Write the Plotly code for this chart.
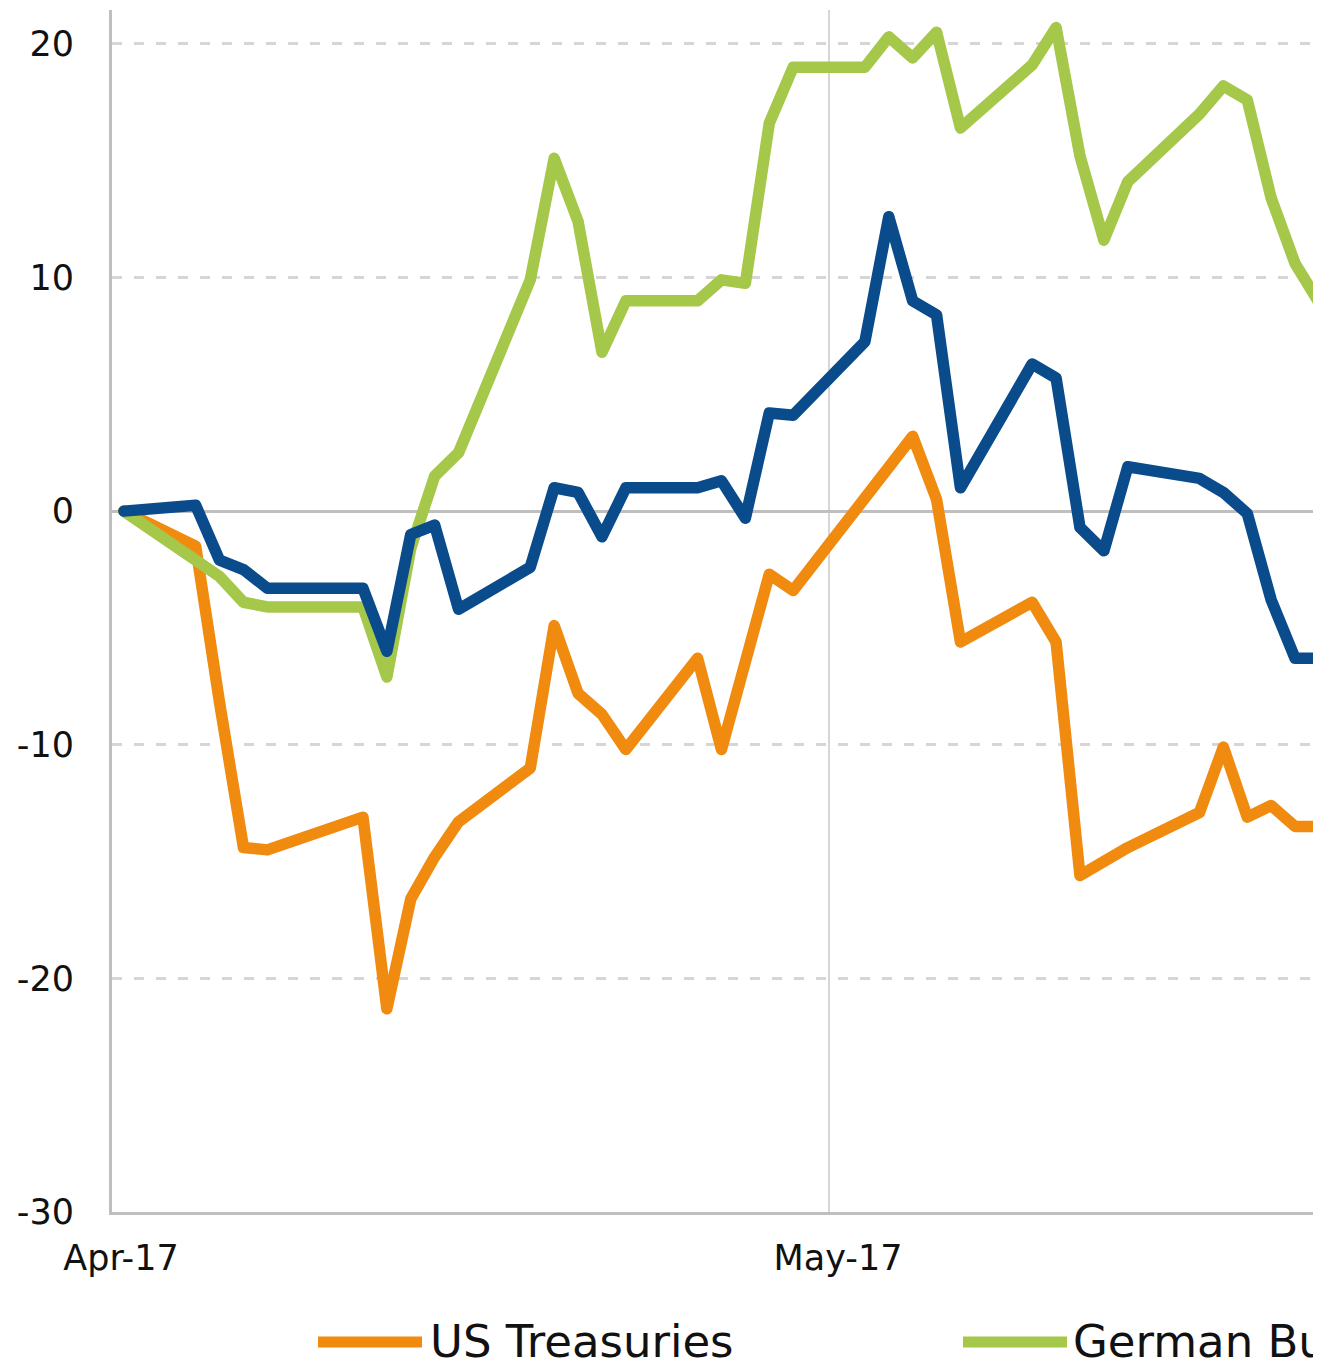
import plotly.graph_objects as go

# Trading days (weekends and Good Friday are simply bridged by the line)
dates = [
    "2017-04-07", "2017-04-10", "2017-04-11", "2017-04-12", "2017-04-13",
    "2017-04-17", "2017-04-18", "2017-04-19", "2017-04-20", "2017-04-21",
    "2017-04-24", "2017-04-25", "2017-04-26", "2017-04-27", "2017-04-28",
    "2017-05-01", "2017-05-02", "2017-05-03", "2017-05-04", "2017-05-05",
    "2017-05-08", "2017-05-09", "2017-05-10", "2017-05-11", "2017-05-12",
    "2017-05-15", "2017-05-16", "2017-05-17", "2017-05-18", "2017-05-19",
    "2017-05-22", "2017-05-23", "2017-05-24", "2017-05-25", "2017-05-26",
    "2017-05-29",
]

# Cumulative change since the start date (bp)
us_treasuries = [
    0, -1.5, -8.2, -14.4, -14.5,
    -13.1, -21.3, -16.6, -14.8, -13.3,
    -11.0, -4.9, -7.8, -8.7, -10.2,
    -6.3, -10.2, -6.5, -2.7, -3.4,
    0.6, 1.9, 3.2, 0.5, -5.6,
    -3.9, -5.6, -15.6, -15.0, -14.4,
    -12.9, -10.1, -13.1, -12.6, -13.5,
    -13.5,
]
german_bunds = [
    0, -2.1, -2.8, -3.9, -4.1,
    -4.1, -7.1, -1.6, 1.5, 2.5,
    9.9, 15.1, 12.4, 6.8, 9.0,
    9.0, 9.9, 9.75, 16.6, 19.0,
    19.0, 20.3, 19.4, 20.5, 16.4,
    19.1, 20.7, 15.2, 11.6, 14.1,
    17.0, 18.2, 17.6, 13.4, 10.6,
    5.6,
]
third_market = [
    0, 0.25, -2.1, -2.5, -3.3,
    -3.3, -6.0, -1.0, -0.6, -4.2,
    -2.4, 1.0, 0.8, -1.1, 1.0,
    1.0, 1.3, -0.3, 4.2, 4.1,
    7.25, 12.6, 9.0, 8.4, 1.0,
    6.3, 5.7, -0.7, -1.7, 1.9,
    1.4, 0.8, -0.1, -3.8, -6.3,
    -6.3,
]

y_ticks = [-30, -20, -10, 0, 10, 20]
y_tick_text = ["-30", "-20", "-10", "0", "10", "20"]
x_tick_dates = ["2017-04-07", "2017-05-07"]
x_tick_text = ["Apr-17", "May-17"]

ORANGE = "#F08B10"
GREEN = "#A5C84B"
BLUE = "#0A4B8C"
AXIS_GREY = "#BFBFBF"
GRID_GREY = "#D6D6D6"
TEXT = "#111111"
FONT = "DejaVu Sans"

# each point sits in the middle of its day slot
x_mid = [d + " 12:00" for d in dates]

fig = go.Figure()
for values, color, name in [
    (us_treasuries, ORANGE, "US Treasuries"),
    (german_bunds, GREEN, "German Bunds"),
    (third_market, BLUE, "Other"),
]:
    fig.add_trace(go.Scatter(
        x=x_mid, y=values, mode="lines", name=name,
        line=dict(color=color, width=11.5),
        showlegend=False, hoverinfo="skip",
    ))

W, H = 1313, 1370
ML, MR, MT, MB = 112, 0, 10, 158
pw, ph = W - ML - MR, H - MT - MB


def px(x):
    return (x - ML) / pw


def py(y):
    return (H - MB - y) / ph


# hand-placed legend row
legend_items = [("US Treasuries", ORANGE, 318, 422, 428),
                ("German Bunds", GREEN, 963, 1067, 1071)]
shapes = []
annotations = []
for label, color, x0, x1, xt in legend_items:
    shapes.append(dict(type="line", xref="paper", yref="paper",
                       x0=px(x0), x1=px(x1), y0=py(1342), y1=py(1342),
                       line=dict(color=color, width=11)))
    annotations.append(dict(text=label, xref="paper", yref="paper",
                            x=px(xt), y=py(1342), xanchor="left", yanchor="middle",
                            showarrow=False, font=dict(family=FONT, size=45, color=TEXT)))

fig.update_layout(
    template="none",
    width=W, height=H, autosize=False,
    margin=dict(l=ML, r=MR, t=MT, b=MB, pad=0),
    paper_bgcolor="white", plot_bgcolor="white",
    font=dict(family=FONT, size=35, color=TEXT),
    shapes=shapes, annotations=annotations,
    xaxis=dict(
        type="date",
        range=["2017-04-07 00:00", "2017-05-27 06:00"],
        tickmode="array", tickvals=x_tick_dates, ticktext=x_tick_text,
        ticks="", ticklabelshift=9, ticklabelstandoff=13,
        showgrid=True, gridcolor=GRID_GREY, gridwidth=1.5,
        showline=True, linecolor=AXIS_GREY, linewidth=3,
        zeroline=False, automargin=False, layer="below traces",
        tickfont=dict(family=FONT, size=35, color=TEXT),
    ),
    yaxis=dict(
        range=[-30, 21.45],
        tickmode="array", tickvals=y_ticks, ticktext=y_tick_text,
        ticks="", ticklabelstandoff=28,
        showgrid=True, gridcolor=GRID_GREY, gridwidth=3, griddash="10px,12px",
        zeroline=True, zerolinecolor=AXIS_GREY, zerolinewidth=3,
        showline=True, linecolor=AXIS_GREY, linewidth=3,
        automargin=False, layer="below traces",
        tickfont=dict(family=FONT, size=35, color=TEXT),
    ),
)

round_joins = """
document.querySelectorAll('.scatterlayer path.js-line').forEach(function(p){
  p.style.strokeLinejoin = 'round';
  p.style.strokeLinecap = 'round';
});
"""

fig.write_html("out.html", post_script=round_joins)
